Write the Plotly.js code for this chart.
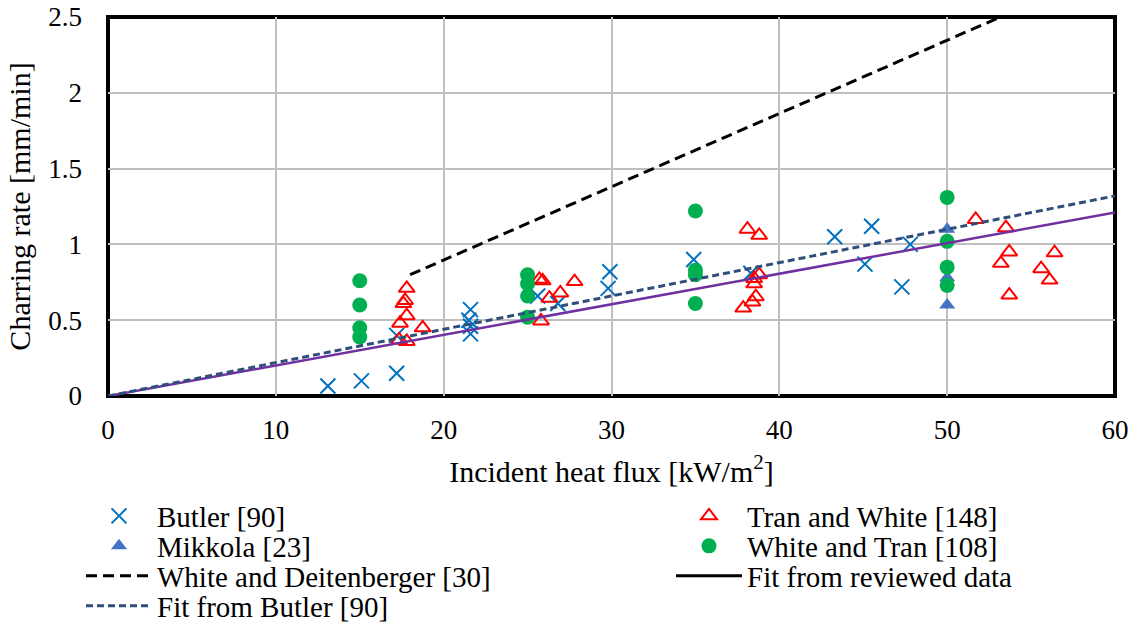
<!DOCTYPE html>
<html>
<head>
<meta charset="utf-8">
<script src="https://cdn.plot.ly/plotly-3.0.1.min.js"></script>
<style>html,body{margin:0;padding:0;background:#fff;}#chart{width:1139px;height:630px;}</style>
</head>
<body>
<div id="chart"></div>
<script>
// ---- Data ----
const butlerX = [13.1, 15.1, 17.2, 17.2, 21.6, 21.5, 21.6, 21.6, 25.6, 26.8, 29.9, 29.8, 34.9, 38.3, 43.3, 45.5, 47.8, 45.1, 47.3];
const butlerY = [0.066, 0.10, 0.15, 0.40, 0.57, 0.50, 0.46, 0.41, 0.66, 0.61, 0.82, 0.71, 0.90, 0.81, 1.05, 1.12, 1.00, 0.87, 0.72];

const mikkolaX = [50, 50, 50];
const mikkolaY = [1.10, 0.78, 0.60];

const tranWhiteX = [17.8, 17.7, 17.6, 17.8, 17.4, 18.75, 17.35, 17.8,
                    25.7, 25.9, 26.3, 26.95, 27.8, 25.8,
                    38.1, 38.8, 38.8, 38.5, 38.5, 38.6, 38.4, 37.85,
                    51.7, 53.5, 53.7, 53.2, 55.6, 56.4, 56.1, 53.7];
const tranWhiteY = [0.71, 0.63, 0.61, 0.53, 0.48, 0.45, 0.37, 0.36,
                    0.77, 0.76, 0.645, 0.68, 0.755, 0.495,
                    1.10, 1.06, 0.80, 0.775, 0.74, 0.655, 0.62, 0.58,
                    1.165, 1.11, 0.95, 0.875, 0.84, 0.945, 0.765, 0.666];

const whiteTranX = [15, 15, 15, 15, 25, 25, 25, 25, 35, 35, 35, 35, 50, 50, 50, 50];
const whiteTranY = [0.76, 0.60, 0.45, 0.39, 0.80, 0.74, 0.66, 0.52, 1.22, 0.83, 0.80, 0.61, 1.31, 1.02, 0.85, 0.73];

const whiteDeitX = [18, 60];
const whiteDeitY = [0.80, 2.83];

const fitReviewedX = [0, 60];
const fitReviewedY = [0, 1.21];

const fitButlerX = [0, 60];
const fitButlerY = [0, 1.32];

const xTicks = [0, 10, 20, 30, 40, 50, 60];
const yTicks = [0, 0.5, 1, 1.5, 2, 2.5];

const names = ["Butler [90]", "Tran and White [148]", "Mikkola [23]", "White and Tran [108]",
               "White and Deitenberger [30]", "Fit from reviewed data", "Fit from Butler [90]"];

// ---- Styling ----
const FONT = '"Liberation Serif", "Times New Roman", serif';
const W = 1139, H = 630;
const ML = 108, MR = 24, MT = 17, MB = 234;
const PW = W - ML - MR, PH = H - MT - MB;

const traces = [
  {x: butlerX, y: butlerY, name: names[0], type: "scatter", mode: "markers", legend: "legend",
   marker: {symbol: "x-thin-open", size: 15, color: "#0070c0", line: {color: "#0070c0", width: 2}}},
  {x: mikkolaX, y: mikkolaY, name: names[2], type: "scatter", mode: "markers", legend: "legend3",
   marker: {symbol: "triangle-up", size: 14, color: "#4472c4"}},
  {x: tranWhiteX, y: tranWhiteY, name: names[1], type: "scatter", mode: "markers", legend: "legend2",
   marker: {symbol: "triangle-up-open", size: 14, color: "#ff0000", line: {color: "#ff0000", width: 2}}},
  {x: whiteTranX, y: whiteTranY, name: names[3], type: "scatter", mode: "markers", legend: "legend4",
   marker: {symbol: "circle", size: 15, color: "#00b050"}},
  {x: whiteDeitX, y: whiteDeitY, name: names[4], type: "scatter", mode: "lines", legend: "legend5",
   line: {color: "#000000", width: 3, dash: "11px,6px"}},
  {x: fitReviewedX, y: fitReviewedY, name: names[5], type: "scatter", mode: "lines", showlegend: false,
   line: {color: "#7030a0", width: 2.5}},
  {x: [null], y: [null], name: names[5], type: "scatter", mode: "lines", legend: "legend6",
   line: {color: "#000000", width: 3}},
  {x: fitButlerX, y: fitButlerY, name: names[6], type: "scatter", mode: "lines", legend: "legend7",
   line: {color: "#2f4f7a", width: 3, dash: "7px,4px"}}
];

function leg(px, py) {
  return {
    xref: "paper", yref: "paper",
    x: (px - ML) / PW, y: (H - MB - py) / PH, xanchor: "left", yanchor: "middle",
    orientation: "v", itemwidth: 66, bgcolor: "rgba(0,0,0,0)", borderwidth: 0,
    font: {family: FONT, size: 29, color: "#000"}, itemclick: false, itemdoubleclick: false
  };
}
const c1 = 81, c2 = 671;
const r = [516, 546, 576, 606];

const layout = {
  width: W, height: H,
  margin: {l: ML, r: MR, t: MT, b: MB, autoexpand: false},
  paper_bgcolor: "#ffffff", plot_bgcolor: "#ffffff",
  font: {family: FONT, size: 27, color: "#000"},
  showlegend: true,
  xaxis: {
    range: [0, 60], tickvals: xTicks, ticktext: xTicks.map(String),
    showgrid: true, gridcolor: "#bfbfbf", gridwidth: 2, zeroline: false,
    showline: false, ticks: "", ticklabelstandoff: 15, automargin: false,
    tickfont: {family: FONT, size: 27, color: "#000"},
    title: {text: "Incident heat flux [kW/m<sup>2</sup>]", font: {family: FONT, size: 30, color: "#000"}, standoff: 16},
    fixedrange: true
  },
  yaxis: {
    range: [0, 2.5], tickvals: yTicks, ticktext: yTicks.map(String),
    showgrid: true, gridcolor: "#bfbfbf", gridwidth: 2, zeroline: false,
    showline: false, ticks: "", ticklabelstandoff: 25, automargin: false,
    tickfont: {family: FONT, size: 27, color: "#000"},
    title: {text: "Charring rate [mm/min]", font: {family: FONT, size: 30, color: "#000"}, standoff: 8},
    fixedrange: true
  },
  shapes: [{type: "rect", xref: "paper", yref: "paper", x0: 0, x1: 1, y0: 0, y1: 1,
            line: {color: "#000", width: 4}, layer: "between"}],
  legend: leg(c1, r[0]),
  legend2: leg(c2, r[0]),
  legend3: leg(c1, r[1]),
  legend4: leg(c2, r[1]),
  legend5: leg(c1, r[2]),
  legend6: leg(c2, r[2]),
  legend7: leg(c1, r[3])
};

Plotly.newPlot("chart", traces, layout, {displayModeBar: false, staticPlot: true});
</script>
</body>
</html>
